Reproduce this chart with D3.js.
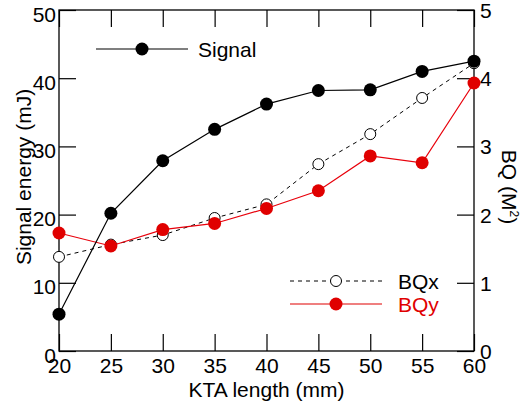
<!DOCTYPE html>
<html><head><meta charset="utf-8">
<script src="https://cdn.jsdelivr.net/npm/d3@7"></script>
<style>body{margin:0;background:#fff}svg{display:block}text{font-family:"Liberation Sans",Arial,sans-serif}</style>
</head><body><div id="chart"></div>
<script>
const ktaLength = [20,25,30,35,40,45,50,55,60];
const signalEnergy = [5.4,20.2,27.9,32.5,36.2,38.2,38.3,41.0,42.5];
const bqx = [1.38,1.56,1.70,1.95,2.15,2.74,3.18,3.71,4.22];
const bqy = [1.73,1.54,1.78,1.87,2.09,2.35,2.86,2.76,3.93];
const xTicks = [20,25,30,35,40,45,50,55,60];
const yLeftTicks = [0,10,20,30,40,50];
const yRightTicks = [0,1,2,3,4,5];

const W=523,H=405;
const m={l:59,r:49,t:10,b:54};
const svg=d3.select("#chart").append("svg").attr("width",W).attr("height",H);
const x=d3.scaleLinear().domain([20,60]).range([m.l,W-m.r]);
const yL=d3.scaleLinear().domain([0,50]).range([H-m.b,m.t]);
const yR=d3.scaleLinear().domain([0,5]).range([H-m.b,m.t]);
const x0=m.l,x1=W-m.r,y0=H-m.b,y1=m.t;
const fs=21;

// frame
svg.append("rect").attr("x",x0).attr("y",y1).attr("width",x1-x0).attr("height",y0-y1)
  .attr("fill","none").attr("stroke","#000").attr("stroke-width",1.3);

const tl=17;
// bottom axis
const gB=svg.append("g").attr("transform",`translate(0,${y0})`)
  .call(d3.axisBottom(x).tickValues(xTicks).tickSizeInner(-tl).tickSizeOuter(0).tickPadding(7));
gB.selectAll("text").attr("font-size",fs).attr("fill","#000").attr("dy","0.71em");
// top axis ticks
svg.append("g").attr("transform",`translate(0,${y1})`)
  .call(d3.axisTop(x).tickValues(xTicks).tickSizeInner(-tl).tickSizeOuter(0).tickFormat(""));
// left axis
const gL=svg.append("g").attr("transform",`translate(${x0},0)`)
  .call(d3.axisLeft(yL).tickValues(yLeftTicks).tickSizeInner(-tl).tickSizeOuter(0).tickPadding(3));
gL.selectAll("text").attr("font-size",fs).attr("fill","#000").attr("dy","0.53em");
// right axis
const gR=svg.append("g").attr("transform",`translate(${x1},0)`)
  .call(d3.axisRight(yR).tickValues(yRightTicks).tickSizeInner(-tl).tickSizeOuter(0).tickPadding(6).tickFormat(d3.format("d")));
gR.selectAll("text").attr("font-size",fs).attr("fill","#000").attr("dy","0.36em");
svg.selectAll(".domain").remove();
svg.selectAll(".tick line").attr("stroke","#000").attr("stroke-width",1.2);

// titles
svg.append("text").attr("x",(x0+x1)/2).attr("y",397).attr("text-anchor","middle")
  .attr("font-size",fs).text("KTA length (mm)");
svg.append("text").attr("transform",`translate(31,177) rotate(-90)`).attr("text-anchor","middle")
  .attr("font-size",fs).text("Signal energy (mJ)");
const rt=svg.append("text").attr("transform",`translate(502,187) rotate(90)`).attr("text-anchor","middle")
  .attr("font-size",fs);
rt.append("tspan").text("BQ (M");
rt.append("tspan").attr("font-size",12).attr("dy",-8).text("2");
rt.append("tspan").attr("dy",8).text(")");

const pts=(arr,ys)=>ktaLength.map((k,i)=>[x(k),ys(arr[i])]);
const line=d3.line();
// BQx
svg.append("path").attr("d",line(pts(bqx,yR))).attr("fill","none").attr("stroke","#000")
  .attr("stroke-width",1).attr("stroke-dasharray","4,4");
svg.append("g").selectAll("circle").data(pts(bqx,yR)).join("circle")
  .attr("cx",d=>d[0]).attr("cy",d=>d[1]).attr("r",5.5).attr("fill","#fff").attr("stroke","#000").attr("stroke-width",1);
// BQy
svg.append("path").attr("d",line(pts(bqy,yR))).attr("fill","none").attr("stroke","#e8000b").attr("stroke-width",1.2);
svg.append("g").selectAll("circle").data(pts(bqy,yR)).join("circle")
  .attr("cx",d=>d[0]).attr("cy",d=>d[1]).attr("r",6.5).attr("fill","#e00000");
// Signal
svg.append("path").attr("d",line(pts(signalEnergy,yL))).attr("fill","none").attr("stroke","#000").attr("stroke-width",1.2);
svg.append("g").selectAll("circle").data(pts(signalEnergy,yL)).join("circle")
  .attr("cx",d=>d[0]).attr("cy",d=>d[1]).attr("r",6.5).attr("fill","#000");

// legends
function legend(lx1,lx2,ly,label,color,dash,open,tx){
  svg.append("line").attr("x1",lx1).attr("x2",lx2).attr("y1",ly).attr("y2",ly)
    .attr("stroke",color).attr("stroke-width",open?1:1.2).attr("stroke-dasharray",dash);
  svg.append("circle").attr("cx",(lx1+lx2)/2).attr("cy",ly).attr("r",open?5.5:6.5)
    .attr("fill",open?"#fff":color).attr("stroke",open?"#000":"none");
  svg.append("text").attr("x",tx).attr("y",ly+7.5).attr("font-size",fs).attr("fill",color).text(label);
}
legend(96,188,49,"Signal","#000",null,false,198);
legend(290,382,281,"BQx","#000","4,4",true,398);
legend(290,382,304,"BQy","#e00000",null,false,398);
</script></body></html>
